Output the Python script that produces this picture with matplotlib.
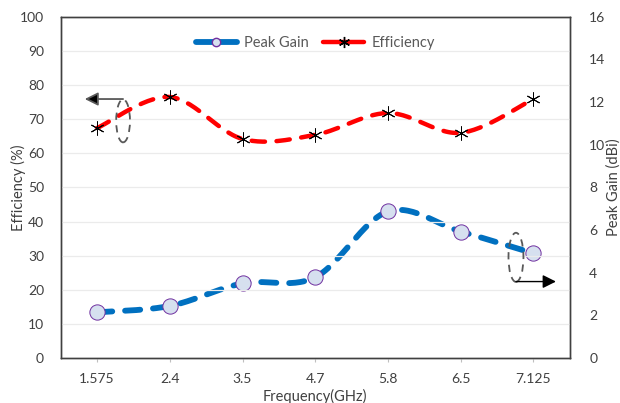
import numpy as np
import matplotlib.pyplot as plt
from matplotlib.patches import Ellipse
from matplotlib.lines import Line2D

plt.rcParams['font.family'] = ['Lato', 'DejaVu Sans']

freq_labels = ['1.575', '2.4', '3.5', '4.7', '5.8', '6.5', '7.125']
efficiency = [67.4, 76.5, 64.2, 65.4, 71.8, 66.0, 75.9]
peak_gain = [2.14, 2.44, 3.5, 3.79, 6.87, 5.93, 4.91]


def smooth(xs, ys, n=30):
    # excel style smoothed line (bezier through the points)
    xs = np.asarray(xs, float)
    ys = np.asarray(ys, float)
    px = np.concatenate([[xs[0]], xs, [xs[-1]]])
    py = np.concatenate([[ys[0]], ys, [ys[-1]]])
    outx, outy = [], []
    t = np.linspace(0, 1, n)
    for i in range(1, len(px) - 2):
        p0 = np.array([px[i], py[i]])
        p3 = np.array([px[i + 1], py[i + 1]])
        c1 = p0 + (np.array([px[i + 1], py[i + 1]]) - np.array([px[i - 1], py[i - 1]])) / 6
        c2 = p3 - (np.array([px[i + 2], py[i + 2]]) - np.array([px[i], py[i]])) / 6
        b = ((1 - t)[:, None] ** 3 * p0 + 3 * ((1 - t) ** 2 * t)[:, None] * c1
             + 3 * ((1 - t) * t ** 2)[:, None] * c2 + (t ** 3)[:, None] * p3)
        outx.extend(b[:, 0])
        outy.extend(b[:, 1])
    return outx, outy


x = np.arange(len(freq_labels))

fig = plt.figure(figsize=(6.2, 4.03), dpi=100)
ax = fig.add_axes([0.098, 0.1117, 0.821, 0.8466])
ax2 = ax.twinx()

ax.set_zorder(2)
ax.patch.set_visible(False)

tc = '#404040'
ax.set_xlim(-0.5, 6.5)
ax.set_ylim(0, 100)
ax.set_yticks(range(0, 101, 10))
ax2.set_ylim(0, 16)
ax2.set_yticks(range(0, 17, 2))
ax.set_xticks(x)
ax.set_xticklabels(freq_labels)
ax.grid(axis='y', color='#ebebeb', lw=0.9)
ax.set_axisbelow(True)
ax.tick_params(axis='y', length=0, labelsize=10, colors=tc, pad=12)
ax.tick_params(axis='x', length=3, color='#bfbfbf', labelsize=10, labelcolor=tc, pad=8)
ax2.tick_params(axis='y', length=0, labelsize=10, colors=tc, pad=14)
for a in (ax, ax2):
    for s in a.spines.values():
        s.set_color('#404040')
        s.set_linewidth(1.0)

ax.set_ylabel('Efficiency (%)', fontsize=10.5, color=tc)
ax.yaxis.set_label_coords(-0.068, 0.5)
ax2.set_ylabel('Peak Gain (dBi)', fontsize=10.5, color=tc)
ax2.yaxis.set_label_coords(1.072, 0.5)
ax.set_xlabel('Frequency(GHz)', fontsize=10.5, color=tc, labelpad=3)

# peak gain on the right axis
gx, gy = smooth(x, peak_gain)
ax2.plot(gx, gy, color='#0070c0', lw=4.2, ls=(0, (2.6, 2.2)), dash_capstyle='round', zorder=3)
ax2.plot(x, peak_gain, ls='none', marker='o', ms=11, mfc='#d6e0ef', mec='#7030a0', mew=0.7, zorder=4)

# efficiency on the left axis
ex, ey = smooth(x, efficiency)
ax.plot(ex, ey, color='#ff0000', lw=3.2, ls=(0, (3.0, 2.6)), dash_capstyle='round', zorder=3)
ax.plot(x, efficiency, ls='none', marker=(6, 2, 0), ms=10, mec='black', mew=0.7, zorder=4)

# annotations
ax.add_patch(Ellipse((0.357, 69.5), 0.19, 12.6, fill=False, ls=(0, (4, 3)), ec='#595959', lw=1.3, zorder=5))
ax.annotate('', xy=(-0.17, 75.9), xytext=(0.357, 75.9),
            arrowprops=dict(arrowstyle='-|>', color='#595959', lw=1.3, mutation_scale=20,
                            fc='black', shrinkA=0, shrinkB=0), zorder=5)
ax.add_patch(Ellipse((5.76, 29.5), 0.206, 14.4, fill=False, ls=(0, (4, 3)), ec='#595959', lw=1.3, zorder=5))
ax.annotate('', xy=(6.31, 22.4), xytext=(5.76, 22.4),
            arrowprops=dict(arrowstyle='-|>', color='black', lw=1.0, mutation_scale=20,
                            fc='black', shrinkA=0, shrinkB=0), zorder=5)

# legend
h1 = Line2D([], [], color='#0070c0', lw=4.2, marker='o', ms=6, mfc='#d6e0ef', mec='#7030a0', solid_capstyle='round')
h2 = Line2D([], [], color='#ff0000', lw=3.2, marker=(6, 2, 0), ms=8, mec='black', solid_capstyle='round')
ax.legend([h1, h2], ['Peak Gain', 'Efficiency'], loc='upper center', bbox_to_anchor=(0.5, 0.983),
          ncol=2, frameon=False, fontsize=10.5, labelcolor='#595959', handlelength=2.8,
          columnspacing=1.0, handletextpad=0.5)

fig.savefig('out.png', dpi=100)
